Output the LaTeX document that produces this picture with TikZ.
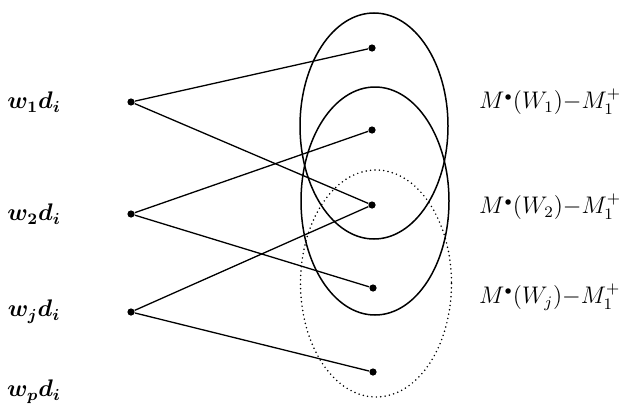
\documentclass[tikz,border=0pt]{standalone}
\usepackage{amsmath}
\usepackage{tikz}
\usetikzlibrary{positioning}

\begin{document}
\begin{tikzpicture}[
  x=0.5pt, y=-0.5pt,
  font=\fontsize{12}{14}\selectfont,
  dot/.style={circle,fill=black,inner sep=0pt,minimum size=3.6pt},
  link/.style={line width=0.65pt},
  set/.style={line width=0.75pt},
  openset/.style={line width=0.85pt,line cap=round,dash pattern=on 0pt off 2.2pt}
]
  \useasboundingbox (0,0) rectangle (625,407);

  % weighted sources
  \node[dot] (w1) at (131,102) {};
  \node[dot] (w2) at (131,214) {};
  \node[dot] (wj) at (131,312) {};

  \node (lw1) at (34,102) {$\boldsymbol{w_1d_i}$};
  \node (lw2) at (34,214) {$\boldsymbol{w_2d_i}$};
  \node (lwj) at (34,312) {$\boldsymbol{w_jd_i}$};
  \node (lwp) at (34,392) {$\boldsymbol{w_pd_i}$};

  % targets
  \node[dot] (m1) at (372,48) {};
  \node[dot] (m2) at (372,130) {};
  \node[dot] (m3) at (372,205) {};
  \node[dot] (m4) at (373,288) {};
  \node[dot] (m5) at (373,372) {};

  % sets
  \draw[set] (374,126) ellipse [x radius=74, y radius=113];
  \draw[set] (375,201) ellipse [x radius=74, y radius=114];
  \draw[openset] (376,283.5) ellipse [x radius=75.5, y radius=113.5];

  \node[anchor=west] (s1) at (472,102) {$M^{\scriptscriptstyle\bullet}(W_1){-}M_1^+$};
  \node[anchor=west] (s2) at (472,207) {$M^{\scriptscriptstyle\bullet}(W_2){-}M_1^+$};
  \node[anchor=west] (sj) at (472,297) {$M^{\scriptscriptstyle\bullet}(W_j){-}M_1^+$};

  \draw[link] (w1) -- (m1);
  \draw[link] (w1) -- (m3);
  \draw[link] (w2) -- (m2);
  \draw[link] (w2) -- (m4);
  \draw[link] (wj) -- (m3);
  \draw[link] (wj) -- (m5);
\end{tikzpicture}
\end{document}
